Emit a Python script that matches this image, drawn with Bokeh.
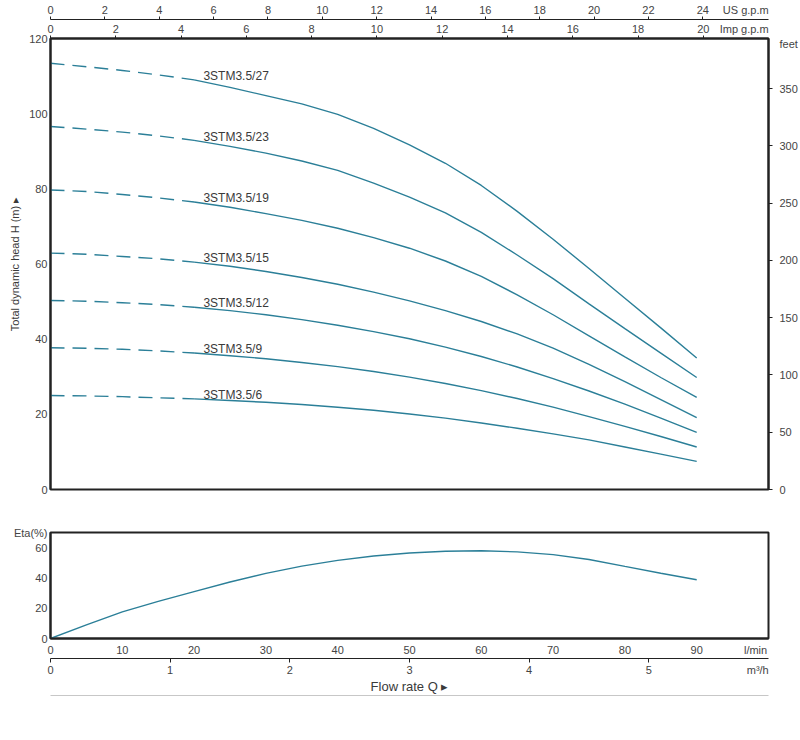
from bokeh.plotting import figure
from bokeh.models import LinearAxis, Range1d, FixedTicker, ColumnDataSource, NumeralTickFormatter
from bokeh.layouts import column
from bokeh.embed import file_html
from bokeh.resources import INLINE
from bokeh.core.properties import value

# ---------------- data ----------------
flow_lpm = [0, 5, 10, 15, 20, 25, 30, 35, 40, 45, 50, 55, 60, 65, 70, 75, 80, 85, 90]

pump_models = ["3STM3.5/27", "3STM3.5/23", "3STM3.5/19", "3STM3.5/15",
               "3STM3.5/12", "3STM3.5/9", "3STM3.5/6"]

head_27 = [113.4, 112.5, 111.5, 110.3, 109.0, 107.0, 104.8, 102.6, 99.8, 96.1,
           91.7, 86.8, 80.9, 74.0, 66.6, 58.8, 50.9, 43.0, 35.0]
head_23 = [96.6, 95.9, 95.1, 94.1, 92.9, 91.3, 89.5, 87.4, 84.9, 81.5,
           77.8, 73.6, 68.4, 62.4, 56.1, 49.4, 42.8, 36.3, 29.8]
head_19 = [79.7, 79.3, 78.5, 77.6, 76.5, 75.1, 73.4, 71.6, 69.5, 67.0,
           64.2, 60.8, 56.7, 51.8, 46.5, 40.9, 35.3, 29.8, 24.5]
head_15 = [62.9, 62.6, 62.0, 61.4, 60.5, 59.4, 58.0, 56.4, 54.6, 52.5,
           50.2, 47.6, 44.7, 41.4, 37.6, 33.3, 28.7, 23.9, 19.1]
head_12 = [50.3, 50.1, 49.7, 49.2, 48.5, 47.6, 46.5, 45.2, 43.7, 42.0,
           40.1, 37.9, 35.4, 32.6, 29.5, 26.2, 22.7, 19.0, 15.2]
head_9 = [37.7, 37.6, 37.3, 36.9, 36.3, 35.6, 34.8, 33.8, 32.7, 31.4,
          29.9, 28.2, 26.3, 24.2, 21.9, 19.4, 16.8, 14.1, 11.3]
head_6 = [25.0, 24.9, 24.7, 24.4, 24.1, 23.7, 23.2, 22.6, 21.9, 21.1,
          20.1, 19.0, 17.7, 16.3, 14.8, 13.2, 11.3, 9.4, 7.5]

efficiency = [0.0, 9.0, 17.6, 24.5, 31.0, 37.3, 43.0, 47.8, 51.6, 54.5,
              56.5, 57.6, 57.9, 57.2, 55.4, 52.2, 47.6, 43.1, 38.8]

head_ticks = [0, 20, 40, 60, 80, 100, 120]
feet_ticks = [0, 50, 100, 150, 200, 250, 300, 350]
us_gpm_ticks = [0, 2, 4, 6, 8, 10, 12, 14, 16, 18, 20, 22, 24]
imp_gpm_ticks = [0, 2, 4, 6, 8, 10, 12, 14, 16, 18, 20]
eta_ticks = [0, 20, 40, 60]
lpm_ticks = [0, 10, 20, 30, 40, 50, 60, 70, 80, 90]
m3h_ticks = [0, 1, 2, 3, 4, 5]

heads = [head_27, head_23, head_19, head_15, head_12, head_9, head_6]

# unit conversions
LPM_PER_US_GAL = 3.785411784
LPM_PER_IMP_GAL = 4.54609
FT_PER_M = 3.28084
LPM_PER_M3H = 1000.0 / 60.0

# ---------------- styling / placement ----------------
FONT = "Liberation Sans"
CURVE = "#2b7f98"
TXT = "#3a3a3a"
TICK_TXT = "#444444"
LINE = "#222222"
FW, FH1, FH2 = 718, 451, 106
Q_MAX, H_MAX, ETA_MAX = 100, 120, 70
DASH_END = 4          # index of 20 l/min: curves are dashed before this point
LABEL_Q = 21.3
LABEL_DH = 1.0
# where the unit names sit along their axes (axis units)
US_UNIT_AT, IMP_UNIT_AT, FEET_UNIT_AT = 25.58, 21.25, 389.0
LPM_UNIT_AT, M3H_UNIT_AT, ETA_UNIT_AT = 98.2, 5.91, 70


def style_axis(ax, tick_out=0, standoff=3, line_width=1.0, minor_out=0, size="11px"):
    ax.major_tick_out = tick_out
    ax.major_tick_in = 0
    ax.minor_tick_out = minor_out
    ax.minor_tick_in = 0
    ax.major_tick_line_color = LINE
    ax.minor_tick_line_color = LINE
    ax.major_label_standoff = standoff
    ax.major_label_text_font = FONT
    ax.major_label_text_font_size = size
    ax.major_label_text_color = TICK_TXT
    ax.axis_line_color = LINE
    ax.axis_line_width = line_width
    ax.formatter = NumeralTickFormatter(format="0")


def unit_ticker(ticks, unit_at):
    # labelled ticks carry no mark; the marks are drawn as minor ticks
    return FixedTicker(ticks=ticks + [unit_at], minor_ticks=ticks)


# ---------------- head chart ----------------
p1 = figure(frame_width=FW, frame_height=FH1,
            x_range=Range1d(0, Q_MAX), y_range=Range1d(0, H_MAX),
            x_axis_location=None, output_backend="svg", toolbar_location=None,
            min_border_left=50, min_border_right=10, min_border_top=38, min_border_bottom=8)
p1.grid.visible = False
p1.outline_line_color = LINE
p1.outline_line_width = 2

yax = p1.yaxis[0]
yax.ticker = FixedTicker(ticks=head_ticks)
style_axis(yax, tick_out=0, standoff=3, line_width=2)
yax.axis_label = "Total dynamic head H (m) \u25b8"
yax.axis_label_text_font = FONT
yax.axis_label_text_font_size = "11px"
yax.axis_label_text_font_style = "normal"
yax.axis_label_text_color = TXT
yax.axis_label_standoff = 5

p1.extra_x_ranges = {"imp": Range1d(0, Q_MAX / LPM_PER_IMP_GAL),
                     "us": Range1d(0, Q_MAX / LPM_PER_US_GAL)}
p1.extra_y_ranges = {"ft": Range1d(0, H_MAX * FT_PER_M)}

imp_axis = LinearAxis(x_range_name="imp", ticker=unit_ticker(imp_gpm_ticks, IMP_UNIT_AT))
style_axis(imp_axis, tick_out=0, minor_out=3, standoff=1, line_width=2)
imp_axis.major_label_overrides = {IMP_UNIT_AT: "Imp g.p.m"}
p1.add_layout(imp_axis, "above")

us_axis = LinearAxis(x_range_name="us", ticker=unit_ticker(us_gpm_ticks, US_UNIT_AT))
style_axis(us_axis, tick_out=0, minor_out=3, standoff=1, line_width=1)
us_axis.major_label_overrides = {US_UNIT_AT: "US g.p.m"}
p1.add_layout(us_axis, "above")

ft_axis = LinearAxis(y_range_name="ft", ticker=unit_ticker(feet_ticks, FEET_UNIT_AT))
style_axis(ft_axis, tick_out=0, minor_out=4, standoff=7, line_width=2)
ft_axis.major_label_overrides = {FEET_UNIT_AT: "feet"}
p1.add_layout(ft_axis, "right")

for h in heads:
    p1.line(flow_lpm[:DASH_END + 1], h[:DASH_END + 1], line_color=CURVE,
            line_width=1.4, line_dash="14 8")
    p1.line(flow_lpm[DASH_END:], h[DASH_END:], line_color=CURVE, line_width=1.4)

lab_src = ColumnDataSource(dict(x=[LABEL_Q] * len(pump_models),
                                y=[h[DASH_END] + LABEL_DH for h in heads],
                                text=pump_models))
p1.text(x="x", y="y", text="text", source=lab_src, text_font=value(FONT),
        text_font_size="12px", text_color=TXT, text_baseline="alphabetic",
        text_align="left")

# ---------------- efficiency chart ----------------
p2 = figure(frame_width=FW, frame_height=FH2,
            x_range=Range1d(0, Q_MAX), y_range=Range1d(0, ETA_MAX),
            output_backend="svg", toolbar_location=None,
            min_border_left=50, min_border_right=26, min_border_top=35, min_border_bottom=0)
p2.grid.visible = False
p2.outline_line_color = LINE
p2.outline_line_width = 2

eax = p2.yaxis[0]
eax.ticker = FixedTicker(ticks=eta_ticks + [ETA_UNIT_AT])
style_axis(eax, tick_out=0, standoff=3, line_width=2)
eax.major_label_overrides = {ETA_UNIT_AT: "Eta(%)"}

lax = p2.xaxis[0]
lax.ticker = FixedTicker(ticks=lpm_ticks + [LPM_UNIT_AT])
style_axis(lax, tick_out=0, standoff=5, line_width=2)
lax.major_label_overrides = {LPM_UNIT_AT: "l/min"}

p2.extra_x_ranges = {"m3h": Range1d(0, Q_MAX / LPM_PER_M3H)}
m3_axis = LinearAxis(x_range_name="m3h", ticker=unit_ticker(m3h_ticks, M3H_UNIT_AT))
style_axis(m3_axis, tick_out=0, minor_out=4, standoff=1, line_width=1)
m3_axis.major_label_overrides = {M3H_UNIT_AT: "m\u00b3/h"}
m3_axis.axis_label = "Flow rate Q \u25b8"
m3_axis.axis_label_text_font = FONT
m3_axis.axis_label_text_font_size = "13px"
m3_axis.axis_label_text_font_style = "normal"
m3_axis.axis_label_text_color = TXT
m3_axis.axis_label_standoff = 0
p2.add_layout(m3_axis, "below")

base_axis = LinearAxis(x_range_name="m3h", ticker=FixedTicker(ticks=[]))
style_axis(base_axis, tick_out=0, standoff=0, line_width=1.5)
p2.add_layout(base_axis, "below")

p2.line(flow_lpm, efficiency, line_color=CURVE, line_width=1.4)

layout = column(p1, p2)
open("out.html", "w").write(file_html(layout, INLINE))
